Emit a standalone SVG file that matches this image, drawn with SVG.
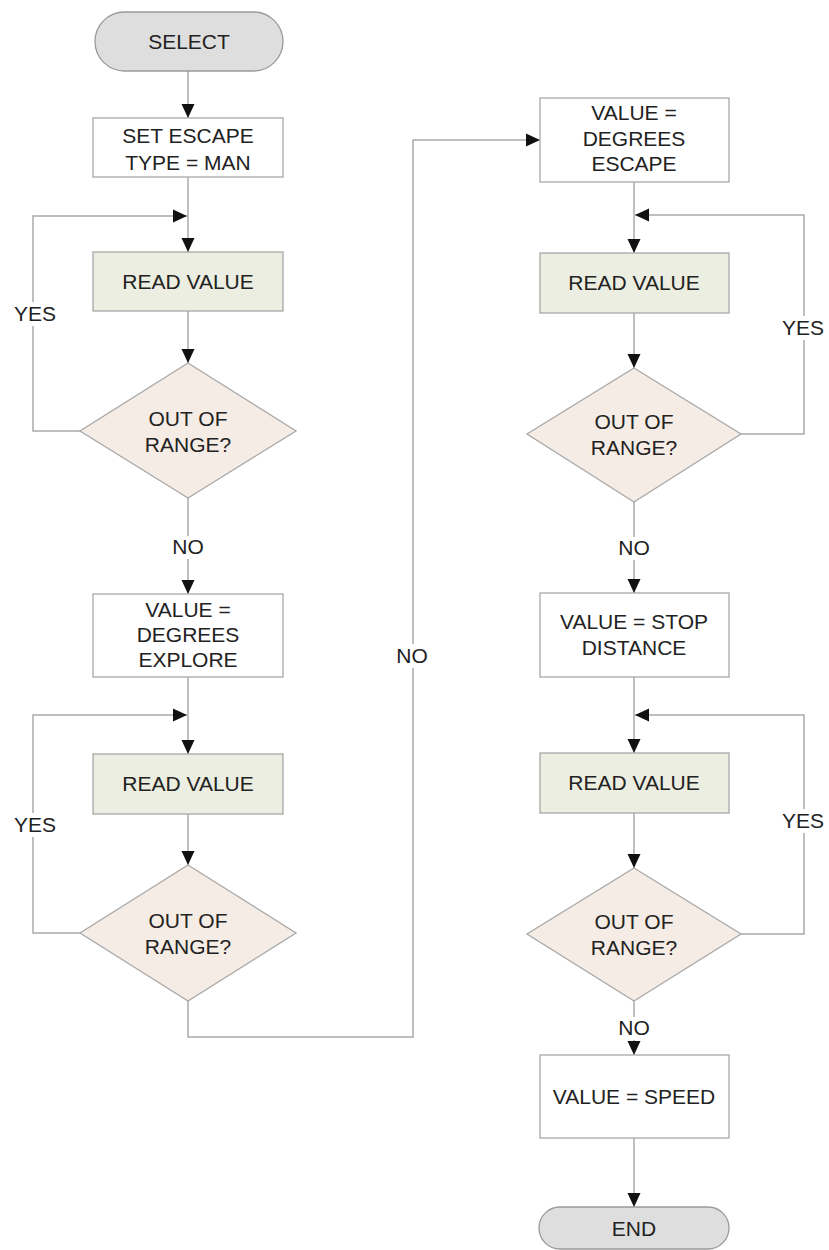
<svg xmlns="http://www.w3.org/2000/svg" width="829" height="1250" viewBox="0 0 829 1250">
  <defs>
    <marker id="arrow" viewBox="0 0 14 14" refX="14" refY="7" markerWidth="14" markerHeight="14" markerUnits="userSpaceOnUse" orient="auto">
      <path d="M0,0.5 L14,7 L0,13.5 Z" fill="#111"/>
    </marker>
    <style>
      .term { fill: #dedede; stroke: #9a9a9a; stroke-width: 1.3; }
      .proc { fill: #ffffff; stroke: #a8a8a8; stroke-width: 1.3; }
      .read { fill: #eceee1; stroke: #a8a8a8; stroke-width: 1.3; }
      .dec  { fill: #f5ece5; stroke: #a8a8a8; stroke-width: 1.3; }
      .conn { fill: none; stroke: #ababab; stroke-width: 1.5; }
      text { font-family: "Liberation Sans", Arial, sans-serif; font-size: 21px; fill: #222; text-anchor: middle; }
    </style>
  </defs>
  <rect width="829" height="1250" fill="#ffffff"/>

  <!-- connectors -->
  <g id="connectors">
    <path class="conn" d="M188 71 V118" marker-end="url(#arrow)"/>
    <path class="conn" d="M188 177 V252" marker-end="url(#arrow)"/>
    <path class="conn" d="M188 311 V363" marker-end="url(#arrow)"/>
    <path class="conn" d="M80 431 H33 V326 M33 302 V216 H187" marker-end="url(#arrow)"/>
    <path class="conn" d="M188 498 V536 M188 559 V594" marker-end="url(#arrow)"/>
    <path class="conn" d="M188 677 V754" marker-end="url(#arrow)"/>
    <path class="conn" d="M188 814 V865" marker-end="url(#arrow)"/>
    <path class="conn" d="M80 933 H33 V837 M33 813 V715 H187" marker-end="url(#arrow)"/>
    <path class="conn" d="M188 1001 V1037 H413 V668 M413 644 V140 H540" marker-end="url(#arrow)"/>
    <path class="conn" d="M634 182 V253" marker-end="url(#arrow)"/>
    <path class="conn" d="M634 313 V368" marker-end="url(#arrow)"/>
    <path class="conn" d="M741 434 H804 V340 M804 316 V215 H635" marker-end="url(#arrow)"/>
    <path class="conn" d="M634 502 V537 M634 560 V593" marker-end="url(#arrow)"/>
    <path class="conn" d="M634 677 V753" marker-end="url(#arrow)"/>
    <path class="conn" d="M634 813 V868" marker-end="url(#arrow)"/>
    <path class="conn" d="M741 934 H804 V833 M804 809 V715 H635" marker-end="url(#arrow)"/>
    <path class="conn" d="M634 1001 V1017 M634 1040 V1055" marker-end="url(#arrow)"/>
    <path class="conn" d="M634 1138 V1207" marker-end="url(#arrow)"/>
  </g>

  <!-- branch labels -->
  <g id="labels">
    <text x="35" y="321">YES</text>
    <text x="188" y="554">NO</text>
    <text x="35" y="832">YES</text>
    <text x="412" y="663">NO</text>
    <text x="803" y="335">YES</text>
    <text x="634" y="555">NO</text>
    <text x="803" y="828">YES</text>
    <text x="634" y="1035">NO</text>
  </g>

  <!-- left column -->
  <g id="select">
    <rect class="term" x="95" y="12" width="188" height="59" rx="29.5"/>
    <text x="189" y="49">SELECT</text>
  </g>
  <g id="set-escape-type">
    <rect class="proc" x="93" y="118" width="190" height="59"/>
    <text x="188" y="143">SET ESCAPE</text>
    <text x="188" y="170">TYPE = MAN</text>
  </g>
  <g id="read-value-1">
    <rect class="read" x="93" y="252" width="190" height="59"/>
    <text x="188" y="289">READ VALUE</text>
  </g>
  <g id="out-of-range-1">
    <polygon class="dec" points="188,363 296,431 188,498 80,431"/>
    <text x="188" y="426">OUT OF</text>
    <text x="188" y="452">RANGE?</text>
  </g>
  <g id="degrees-explore">
    <rect class="proc" x="93" y="594" width="190" height="83"/>
    <text x="188" y="617">VALUE =</text>
    <text x="188" y="642">DEGREES</text>
    <text x="188" y="667">EXPLORE</text>
  </g>
  <g id="read-value-2">
    <rect class="read" x="93" y="754" width="190" height="60"/>
    <text x="188" y="791">READ VALUE</text>
  </g>
  <g id="out-of-range-2">
    <polygon class="dec" points="188,865 296,933 188,1001 80,933"/>
    <text x="188" y="928">OUT OF</text>
    <text x="188" y="954">RANGE?</text>
  </g>

  <!-- right column -->
  <g id="degrees-escape">
    <rect class="proc" x="540" y="98" width="189" height="84"/>
    <text x="634" y="120">VALUE =</text>
    <text x="634" y="146">DEGREES</text>
    <text x="634" y="171">ESCAPE</text>
  </g>
  <g id="read-value-3">
    <rect class="read" x="540" y="253" width="189" height="60"/>
    <text x="634" y="290">READ VALUE</text>
  </g>
  <g id="out-of-range-3">
    <polygon class="dec" points="634,368 741,434 634,502 527,434"/>
    <text x="634" y="429">OUT OF</text>
    <text x="634" y="455">RANGE?</text>
  </g>
  <g id="stop-distance">
    <rect class="proc" x="540" y="593" width="189" height="84"/>
    <text x="634" y="629">VALUE = STOP</text>
    <text x="634" y="655">DISTANCE</text>
  </g>
  <g id="read-value-4">
    <rect class="read" x="540" y="753" width="189" height="60"/>
    <text x="634" y="790">READ VALUE</text>
  </g>
  <g id="out-of-range-4">
    <polygon class="dec" points="634,868 741,934 634,1001 527,934"/>
    <text x="634" y="929">OUT OF</text>
    <text x="634" y="955">RANGE?</text>
  </g>
  <g id="value-speed">
    <rect class="proc" x="540" y="1055" width="189" height="83"/>
    <text x="634" y="1104">VALUE = SPEED</text>
  </g>
  <g id="end">
    <rect class="term" x="539" y="1207" width="190" height="42" rx="21"/>
    <text x="634" y="1236">END</text>
  </g>
</svg>
